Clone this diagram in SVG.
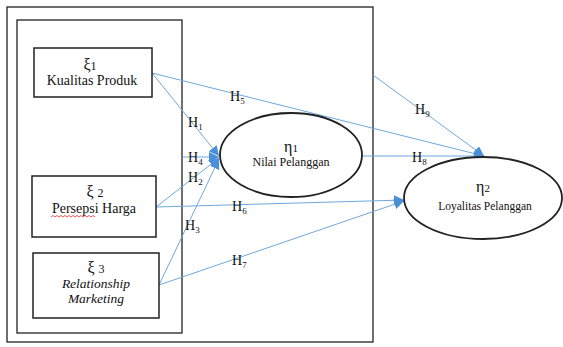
<svg xmlns="http://www.w3.org/2000/svg" width="563" height="347" viewBox="0 0 563 347">
<defs>
<marker id="ah" viewBox="0 0 10 10" refX="10" refY="5" markerWidth="10" markerHeight="10" markerUnits="userSpaceOnUse" orient="auto">
<path d="M0,0 L10,5 L0,10 z" fill="#4a90d9"/>
</marker>
<style>
.frame{fill:none;stroke:#222;stroke-width:1.3}
.box{fill:#fff;stroke:#222;stroke-width:1.5}
.ell{fill:#fff;stroke:#222;stroke-width:1.8}
.con{stroke:#6fa8dc;stroke-width:1;fill:none}
.t{font-family:"Liberation Serif","Times New Roman",serif;fill:#111;text-anchor:middle}
.lbl{font-family:"Liberation Serif","Times New Roman",serif;fill:#111;font-size:14px}
.sub{font-size:9px}
</style>
</defs>
<rect width="563" height="347" fill="#fff"/>
<g id="frames">
<rect class="frame" x="7" y="7" width="366" height="335"/>
<rect class="frame" x="17" y="20" width="165" height="313"/>
</g>
<g id="connectors">
<line class="con" x1="152" y1="73" x2="484" y2="156" marker-end="url(#ah)"/>
<line class="con" x1="152" y1="73" x2="219" y2="156" marker-end="url(#ah)"/>
<line class="con" x1="182" y1="157" x2="219" y2="157" marker-end="url(#ah)"/>
<line class="con" x1="156" y1="207" x2="219" y2="158" marker-end="url(#ah)"/>
<line class="con" x1="156" y1="207" x2="404" y2="200" marker-end="url(#ah)"/>
<line class="con" x1="159" y1="285" x2="219" y2="159" marker-end="url(#ah)"/>
<line class="con" x1="159" y1="285" x2="404" y2="201" marker-end="url(#ah)"/>
<line class="con" x1="362" y1="156" x2="484" y2="156" marker-end="url(#ah)"/>
<line class="con" x1="373" y1="75" x2="484" y2="156" marker-end="url(#ah)"/>
</g>
<g id="labels">
<text class="lbl" x="188" y="127">H<tspan class="sub" dy="3">1</tspan></text>
<text class="lbl" x="188" y="162">H<tspan class="sub" dy="3">4</tspan></text>
<text class="lbl" x="188" y="182">H<tspan class="sub" dy="3">2</tspan></text>
<text class="lbl" x="185" y="230">H<tspan class="sub" dy="3">3</tspan></text>
<text class="lbl" x="230" y="101">H<tspan class="sub" dy="3">5</tspan></text>
<text class="lbl" x="232" y="211">H<tspan class="sub" dy="3">6</tspan></text>
<text class="lbl" x="232" y="265">H<tspan class="sub" dy="3">7</tspan></text>
<text class="lbl" x="412" y="162">H<tspan class="sub" dy="3">8</tspan></text>
<text class="lbl" x="415" y="114">H<tspan class="sub" dy="3">9</tspan></text>
</g>
<g id="node-x1">
<rect class="box" x="34" y="48" width="118" height="49"/>
<text class="t" x="90" y="70" font-size="16">ξ<tspan font-size="12">1</tspan></text>
<text class="t" x="92" y="85" font-size="14">Kualitas Produk</text>
</g>
<g id="node-x2">
<rect class="box" x="32" y="176" width="124" height="61"/>
<text class="t" x="95" y="197" font-size="16">ξ <tspan font-size="12">2</tspan></text>
<text class="t" x="94" y="213" font-size="14">Persepsi Harga</text>
<path d="M51,217 l2,-1.5 l2,1.5 l2,-1.5 l2,1.5 l2,-1.5 l2,1.5 l2,-1.5 l2,1.5 l2,-1.5 l2,1.5 l2,-1.5 l2,1.5 l2,-1.5 l2,1.5 l2,-1.5 l2,1.5 l2,-1.5 l2,1.5 l2,-1.5 l2,1.5 l2,-1.5 l2,1.5" fill="none" stroke="#e03030" stroke-width="0.8"/>
</g>
<g id="node-x3">
<rect class="box" x="33" y="253" width="126" height="65"/>
<text class="t" x="96" y="273" font-size="16">ξ <tspan font-size="12">3</tspan></text>
<text class="t" x="96" y="288" font-size="13.5" font-style="italic">Relationship</text>
<text class="t" x="96" y="303" font-size="13.5" font-style="italic">Marketing</text>
</g>
<g id="node-e1">
<ellipse class="ell" cx="291" cy="155" rx="71" ry="42"/>
<text class="t" x="291" y="152" font-size="16">η<tspan font-size="11">1</tspan></text>
<text class="t" x="291" y="166" font-size="12">Nilai Pelanggan</text>
</g>
<g id="node-e2">
<ellipse class="ell" cx="483" cy="198" rx="79" ry="41"/>
<text class="t" x="483" y="192" font-size="16">η<tspan font-size="11">2</tspan></text>
<text class="t" x="485" y="210" font-size="11.5">Loyalitas Pelanggan</text>
</g>
</svg>
